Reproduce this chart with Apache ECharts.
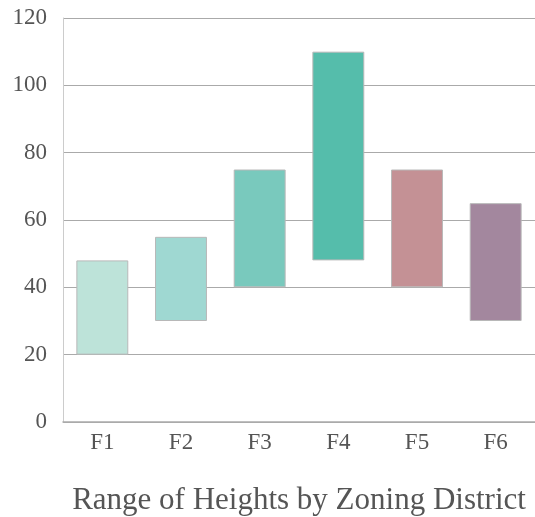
<!DOCTYPE html>
<html>
<head>
<meta charset="utf-8">
<script src="https://cdn.jsdelivr.net/npm/echarts@6/dist/echarts.min.js"></script>
<style>
  html, body { margin: 0; padding: 0; background: #fff; }
  #main { width: 535px; height: 517px; }
</style>
</head>
<body>
<div id="main"></div>
<script>
// zoning districts and their height ranges
const districts = ['F1', 'F2', 'F3', 'F4', 'F5', 'F6'];
const lowHeights = [20, 30, 40, 48, 40, 30];
const highHeights = [48, 55, 75, 110, 75, 65];
const barColors = ['#bde3d9', '#9fd8d2', '#79c9bd', '#55bdab', '#c49195', '#a3879e'];

const chart = echarts.init(document.getElementById('main'));
const font = '"Liberation Serif", "DejaVu Serif", serif';

let option = {
  animation: false,
  title: {
    text: 'Range of Heights by Zoning District',
    left: 294,
    top: 480,
    textAlign: 'center',
    textStyle: { fontFamily: font, fontSize: 31, fontWeight: 'normal', color: '#555' }
  },
  grid: { left: 63, right: 0, top: 18, bottom: 95 },
  xAxis: {
    type: 'category',
    data: districts,
    axisLine: { lineStyle: { color: '#aaa', width: 1.5 } },
    axisTick: { show: false },
    axisLabel: { fontFamily: font, fontSize: 23, color: '#555', margin: 9 }
  },
  yAxis: {
    type: 'value',
    min: 0,
    max: 120,
    interval: 20,
    axisLine: { show: true, lineStyle: { color: '#ccc' } },
    axisTick: { show: false },
    splitLine: { lineStyle: { color: '#aaa' } },
    axisLabel: { fontFamily: font, fontSize: 23, color: '#555', margin: 16 }
  },
  series: [
    {
      type: 'bar',
      stack: 'range',
      data: lowHeights,
      itemStyle: { color: 'transparent' },
      silent: true
    },
    {
      type: 'bar',
      stack: 'range',
      barWidth: '66%',
      data: highHeights.map(function (h, i) {
        return {
          value: h - lowHeights[i],
          itemStyle: { color: barColors[i] }
        };
      }),
      itemStyle: { borderColor: '#b8b8b8', borderWidth: 1 }
    }
  ]
};
chart.setOption(option);
</script>
</body>
</html>
